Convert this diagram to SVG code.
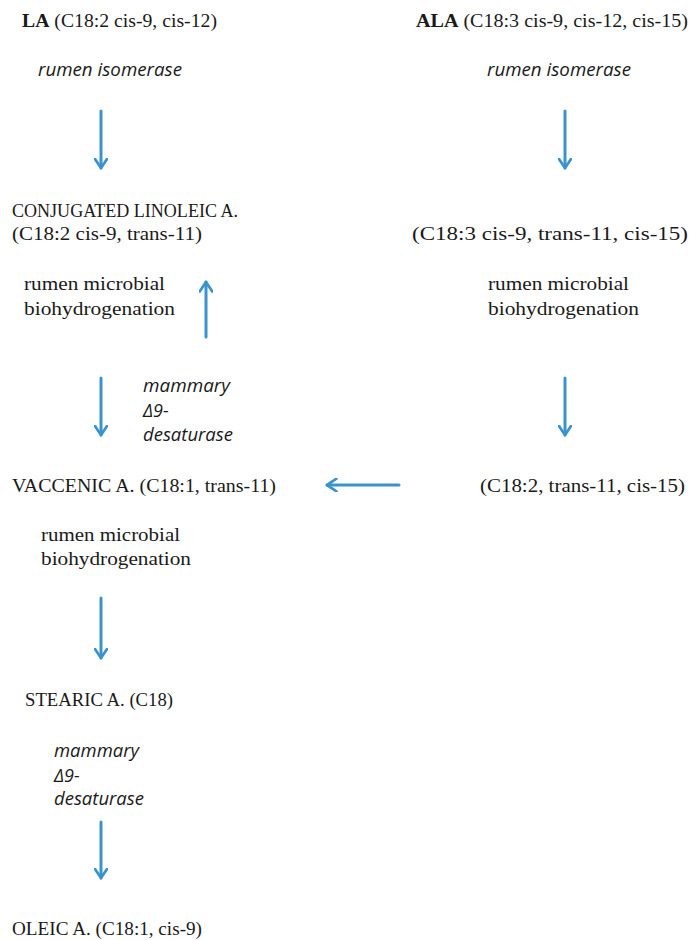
<svg xmlns="http://www.w3.org/2000/svg" width="692" height="940" viewBox="0 0 692 940">
<style>
.t{font-family:"Liberation Serif","DejaVu Serif",serif;font-size:18px;fill:#1a1a1a}
.i{font-family:"Open Sans","Liberation Sans",sans-serif;font-style:italic;font-size:18px;fill:#1a1a1a}
.b{font-weight:bold}
.a{stroke:#3a93cc;stroke-width:3;fill:none;stroke-linecap:round}
</style>
<defs>
<marker id="h" viewBox="0 0 12 14" refX="10" refY="7" markerWidth="4.2" markerHeight="4.9" orient="auto" markerUnits="strokeWidth">
<path d="M1,1 L10,7 L1,13" fill="none" stroke="#3a93cc" stroke-width="2.6" stroke-linecap="round" stroke-linejoin="round"/>
</marker>
</defs>
<rect width="692" height="940" fill="#fff"/>
<g id="la"><text class="t" x="22" y="27" textLength="195" lengthAdjust="spacingAndGlyphs"><tspan class="b">LA</tspan> (C18:2 cis-9, cis-12)</text></g>
<g id="la-enz"><text class="i" x="38" y="76" textLength="144" lengthAdjust="spacingAndGlyphs">rumen isomerase</text></g>
<g id="ala"><text class="t" x="416" y="27" textLength="272" lengthAdjust="spacingAndGlyphs"><tspan class="b">ALA</tspan> (C18:3 cis-9, cis-12, cis-15)</text></g>
<g id="ala-enz"><text class="i" x="487" y="76" textLength="144" lengthAdjust="spacingAndGlyphs">rumen isomerase</text></g>
<g id="cla"><text class="t" x="12" y="217" textLength="226" lengthAdjust="spacingAndGlyphs">CONJUGATED LINOLEIC A.</text><text class="t" x="12" y="240" textLength="190" lengthAdjust="spacingAndGlyphs">(C18:2 cis-9, trans-11)</text></g>
<g id="c183"><text class="t" x="412" y="240" textLength="276" lengthAdjust="spacingAndGlyphs">(C18:3 cis-9, trans-11, cis-15)</text></g>
<g id="rmb1"><text class="t" x="24" y="290" textLength="141" lengthAdjust="spacingAndGlyphs">rumen microbial</text><text class="t" x="24" y="315" textLength="151" lengthAdjust="spacingAndGlyphs">biohydrogenation</text></g>
<g id="rmb2"><text class="t" x="488" y="290" textLength="141" lengthAdjust="spacingAndGlyphs">rumen microbial</text><text class="t" x="488" y="315" textLength="151" lengthAdjust="spacingAndGlyphs">biohydrogenation</text></g>
<g id="md1"><text class="i" x="143" y="392" textLength="87" lengthAdjust="spacingAndGlyphs">mammary</text><text class="i" x="143" y="417">Δ9-</text><text class="i" x="143" y="441" textLength="90" lengthAdjust="spacingAndGlyphs">desaturase</text></g>
<g id="va"><text class="t" x="12" y="492" textLength="264" lengthAdjust="spacingAndGlyphs">VACCENIC  A. (C18:1, trans-11)</text></g>
<g id="c182"><text class="t" x="480" y="492" textLength="205" lengthAdjust="spacingAndGlyphs">(C18:2, trans-11, cis-15)</text></g>
<g id="rmb3"><text class="t" x="41" y="541" textLength="139" lengthAdjust="spacingAndGlyphs">rumen microbial</text><text class="t" x="41" y="565" textLength="150" lengthAdjust="spacingAndGlyphs">biohydrogenation</text></g>
<g id="st"><text class="t" x="25" y="706" textLength="148" lengthAdjust="spacingAndGlyphs">STEARIC A. (C18)</text></g>
<g id="md2"><text class="i" x="54" y="757" textLength="85" lengthAdjust="spacingAndGlyphs">mammary</text><text class="i" x="54" y="782">Δ9-</text><text class="i" x="54" y="805" textLength="90" lengthAdjust="spacingAndGlyphs">desaturase</text></g>
<g id="ol"><text class="t" x="12" y="935" textLength="190" lengthAdjust="spacingAndGlyphs">OLEIC A. (C18:1, cis-9)</text></g>
<g id="connectors">
<path class="a" d="M101,111 V168" marker-end="url(#h)"/>
<path class="a" d="M565,111 V168" marker-end="url(#h)"/>
<path class="a" d="M206,337 V282" marker-end="url(#h)"/>
<path class="a" d="M101,378 V435" marker-end="url(#h)"/>
<path class="a" d="M565,378 V435" marker-end="url(#h)"/>
<path class="a" d="M399,485 H327" marker-end="url(#h)"/>
<path class="a" d="M101,598 V658" marker-end="url(#h)"/>
<path class="a" d="M101,822 V878" marker-end="url(#h)"/>
</g>
</svg>
